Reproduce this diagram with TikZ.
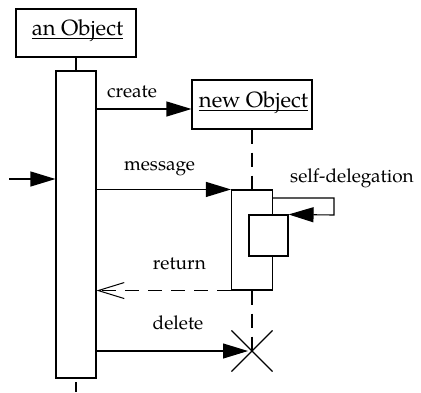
\documentclass[tikz,border=0pt]{standalone}
\usepackage{fontspec}
\setmainfont{TeX Gyre Pagella}
\usetikzlibrary{arrows.meta}

% underline set close to the baseline, as in object names
\newcommand\objname[1]{\setbox0\hbox{#1}\rlap{\rule[-3.5pt]{\wd0}{0.9pt}}\box0}

\begin{document}
\begin{tikzpicture}[x=1pt, y=-1pt, line width=1.1pt,
  objbox/.style={draw, minimum width=120pt, minimum height=48pt, inner sep=0pt},
  actbar/.style={draw, fill=white, inner sep=0pt},
  lbl/.style={anchor=base, inner sep=0pt, font=\fontsize{19}{22}\selectfont},
  objlbl/.style={lbl, font=\fontsize{22}{26}\selectfont},
  lifeline/.style={dash pattern=on 14pt off 9pt},
  callarrow/.style={-{Triangle[length=25pt, width=15pt]}},
  returnarrow/.style={lifeline, -{Straight Barb[length=26pt, width=16pt, line width=1pt]}},
  crossmark/.style={minimum size=40pt, inner sep=0pt}]

  \fill[white] (0,0) rectangle (421,392);
  \useasboundingbox (0,0) rectangle (421,392);

  % objects
  \node[objbox] (anobj) at (76,33) {};
  \node[objlbl] (anobjtext) at (77.5,35) {\objname{an Object}};
  \node[objbox, minimum height=49pt] (newobj) at (252,104.5) {};
  \node[objlbl] (newobjtext) at (253.5,107) {\objname{new Object}};

  % activation bars
  \node[actbar, minimum width=40pt, minimum height=307pt] (A) at (76,224.5) {};
  \node[actbar, minimum width=41pt, minimum height=100pt] (B) at (252,240) {};
  \node[actbar, minimum width=39pt, minimum height=41pt] (C) at (268.5,235.5) {};

  % lifelines
  \coordinate (aend) at (76,392);
  \draw (anobj.south) -- (A.north);
  \draw (A.south |- 0,382) -- (aend);
  \draw[lifeline] (newobj.south) -- (B.north);
  \node[crossmark] (X) at (252,351) {};
  \draw[lifeline] (B.south) -- (X.center);
  \draw (X.north west) -- (X.south east);
  \draw (X.north east) -- (X.south west);

  % incoming call
  \coordinate (in) at (9,179);
  \draw[callarrow] (in) -- (A.west |- in);

  % create
  \draw[callarrow] (A.east |- 0,109) -- (newobj.west |- 0,109);
  \node[lbl] (createlbl) at (132,97) {create};

  % message
  \draw[callarrow] (A.east |- B.north west) -- (B.north west);
  \node[lbl] (messagelbl) at (159.5,170) {message};

  % self-delegation loop
  \coordinate (loopa) at (334,198);
  \coordinate (loopb) at (334,215);
  \draw[callarrow] (B.east |- loopa) -- (loopa) -- (loopb) -- (C.north east);
  \node[lbl] (selflbl) at (352,182) {self-delegation};

  % return
  \draw[returnarrow] (B.south west) -- (A.east |- B.south west);
  \node[lbl] (returnlbl) at (179.5,269) {return};

  % delete
  \draw[callarrow, shorten >=4pt] (A.east |- X.center) -- (X.center);
  \node[lbl] (deletelbl) at (178,329) {delete};
\end{tikzpicture}
\end{document}
